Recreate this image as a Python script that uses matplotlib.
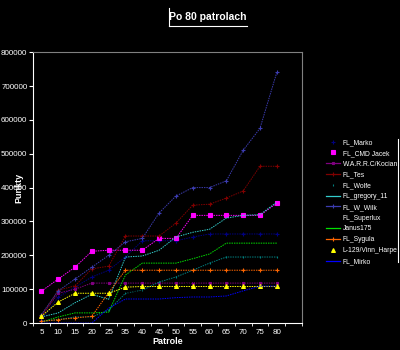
import matplotlib
matplotlib.use("Agg")
import matplotlib.pyplot as plt
from matplotlib.lines import Line2D
import numpy as np

plt.rcParams["font.family"] = ["Liberation Sans", "DejaVu Sans"]

# kategorie (brak 30 w danych)
patrole = ["5", "10", "15", "20", "25", "35", "40", "45", "50", "55", "60", "65", "70", "75", "80"]

fl_marko = [8000, 77000, 106000, 136000, 156000, 195000, 243000, 243000, 243000, 254000, 263000, 263000, 263000, 263000, 263000]
fl_cmd_jacek = [94000, 130000, 165000, 212000, 215000, 215000, 215000, 250000, 250000, 318000, 318000, 318000, 318000, 318000, 354000]
warrc = [20000, 88000, 100000, 118000, 118000, 118000, 118000, 118000, 118000, 118000, 118000, 118000, 118000, 118000, 118000]
fl_tes = [20000, 97000, 110000, 160000, 168000, 257000, 257000, 257000, 295000, 348000, 351000, 369000, 390000, 463000, 463000]
fl_wolfe = [5000, 10000, 18000, 18000, 38000, 88000, 97000, 121000, 136000, 156000, 177000, 195000, 195000, 195000, 195000]
fl_gregory = [18000, 30000, 60000, 85000, 70000, 195000, 198000, 215000, 254000, 268000, 277000, 310000, 318000, 320000, 357000]
fl_w_wilk = [25000, 95000, 130000, 165000, 200000, 240000, 250000, 325000, 375000, 400000, 400000, 420000, 510000, 575000, 740000]
fl_superlux = [0, 5000, 15000, 20000, 50000, 90000, 95000, 100000, 110000, 120000, 130000, 140000, 150000, 160000, 170000]
janus = [3000, 18000, 30000, 30000, 32000, 142000, 177000, 177000, 177000, 190000, 204000, 236000, 236000, 236000, 236000]
fl_sygula = [5000, 10000, 15000, 20000, 90000, 156000, 156000, 156000, 156000, 156000, 156000, 156000, 156000, 156000, 156000]
vinn_harpe = [20000, 62000, 88000, 88000, 88000, 106000, 108000, 108000, 108000, 108000, 108000, 108000, 108000, 108000, 108000]
fl_mirko = [0, 0, 0, 0, 44000, 71000, 71000, 71000, 75000, 77000, 77000, 80000, 95000, 109000, 109000]

serie = [
    ("FL_Marko", fl_marko, "#000080", "+", 3, False),
    ("FL_CMD Jacek", fl_cmd_jacek, "#ff00ff", "s", 2.8, False),
    ("W.A.R.R.C/Kocian", warrc, "#800080", "s", 2, True),
    ("FL_Tes", fl_tes, "#800000", "+", 3, True),
    ("FL_Wolfe", fl_wolfe, "#008080", "|", 2, False),
    ("FL_gregory_11", fl_gregory, "#33cccc", None, 0, True),
    ("FL_W_Wilk", fl_w_wilk, "#3c3cb0", "+", 3, True),
    ("FL_Superlux", fl_superlux, "#000000", None, 0, False),
    ("Janus175", janus, "#00e000", None, 0, True),
    ("FL_Sygula", fl_sygula, "#ff6600", "+", 3, True),
    ("L-129/Vinn_Harpe", vinn_harpe, "#ffff00", "^", 2.8, False),
    ("FL_Mirko", fl_mirko, "#0000ff", None, 0, True),
]

fig = plt.figure(figsize=(4, 3.5), dpi=100, facecolor="black")
ax = fig.add_axes([0.0825, 0.077, 0.6725, 0.774])
ax.set_facecolor("black")

x = np.arange(len(patrole))
handles = []
for nazwa, wartosci, kolor, marker, ms, linia_w_legendzie in serie:
    ax.plot(x, wartosci, color=kolor, lw=0.7, ls=(0, (1.5, 1)), marker=marker, ms=ms, mew=0.8)
    handles.append(Line2D([], [], color=kolor, lw=0.9 if linia_w_legendzie else 0,
                          marker=marker, ms=ms, mew=0.8))

ax.set_xlim(-0.5, 15.5)
ax.set_ylim(0, 800000)
ax.set_yticks(np.arange(0, 800001, 100000))
ax.set_yticklabels([str(v) for v in range(0, 800001, 100000)])
ax.set_xticks(x)
ax.set_xticklabels(patrole)
ax.set_xticks(np.arange(-0.5, 15.6, 1), minor=True)
ax.tick_params(axis="x", which="major", length=0, colors="white", labelsize=5.8, pad=4)
ax.tick_params(axis="x", which="minor", length=2, color="white")
ax.tick_params(axis="y", length=3, color="white", labelcolor="white", labelsize=5.8, pad=1)

for s in ["left", "bottom"]:
    ax.spines[s].set_color("white")
for s in ["top", "right"]:
    ax.spines[s].set_color("#808080")

ax.set_xlabel("Patrole", color="white", fontsize=6.5, fontweight="bold", labelpad=1)
fig.text(19 / 400, 1 - 188 / 350, "Punkty", color="white", fontsize=6.5,
         fontweight="bold", rotation=90, ha="center", va="center")

# tytul z ramka (tylko lewa i dolna krawedz widoczna)
fig.text(0.52, 0.951, "Po 80 patrolach", color="white", fontsize=7.5,
         fontweight="bold", ha="center", va="center")
fig.add_artist(Line2D([169 / 400, 169 / 400], [1 - 8 / 350, 1 - 26 / 350], color="white", lw=0.8))
fig.add_artist(Line2D([169 / 400, 247 / 400], [1 - 26 / 350, 1 - 26 / 350], color="white", lw=0.8))

leg = ax.legend(handles, [s[0] for s in serie], loc="upper left",
                bbox_to_anchor=(326 / 400, 1 - 139 / 350), bbox_transform=fig.transFigure,
                frameon=False, fontsize=4.9, labelcolor="white", handlelength=2.1,
                handletextpad=0.35, labelspacing=0.56, borderaxespad=0, borderpad=0)
fig.add_artist(Line2D([398 / 400, 398 / 400], [1 - 139 / 350, 1 - 262 / 350], color="white", lw=0.8))

fig.savefig("out.png", dpi=100, facecolor="black")
